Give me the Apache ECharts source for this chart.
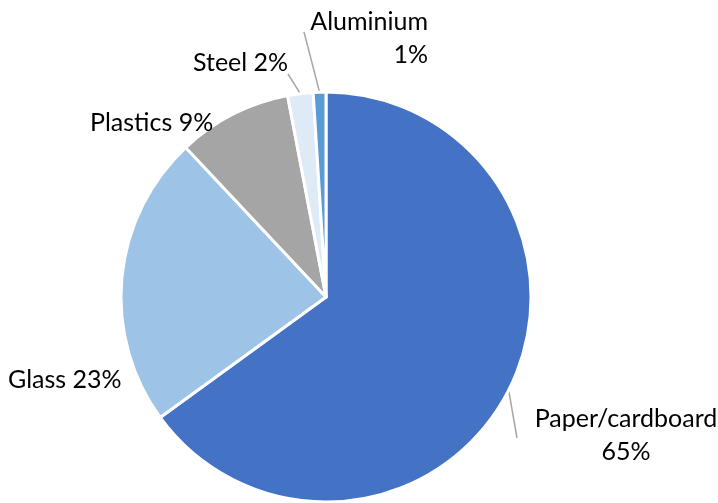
<!DOCTYPE html>
<html>
<head>
<meta charset="utf-8">
<title>Packaging waste by material</title>
<script src="https://cdn.jsdelivr.net/npm/echarts@6/dist/echarts.min.js"></script>
<style>
  html, body { margin: 0; padding: 0; background: #fff; }
  #chart { width: 718px; height: 503px; }
</style>
</head>
<body>
<div id="chart"></div>
<script>
// Share of packaging waste by material (%)
const materials = ['Paper/cardboard', 'Glass', 'Plastics', 'Steel', 'Aluminium'];
const shares = [65, 23, 9, 2, 1];
const sliceColors = ['#4472C4', '#9DC3E6', '#A5A5A5', '#DEEBF7', '#5B9BD5'];

// Label placement: anchor point, alignment, whether the name wraps, and leader line end
const labelPlacement = [
  { x: 626, y: 435, align: 'center', wrap: true,  lineEnd: [517, 438] },
  { x: 8,   y: 380, align: 'left',   wrap: false, lineEnd: null },
  { x: 90,  y: 123, align: 'left',   wrap: false, lineEnd: null },
  { x: 193, y: 63,  align: 'left',   wrap: false, lineEnd: [288, 74] },
  { x: 428, y: 38,  align: 'right',  wrap: true,  lineEnd: [304, 32] }
];

const chart = echarts.init(document.getElementById('chart'), null, { renderer: 'canvas' });

const seriesData = materials.map((name, i) => ({
  name: name,
  value: shares[i],
  itemStyle: { color: sliceColors[i] },
  labelLine: { show: labelPlacement[i].lineEnd !== null }
}));

chart.setOption({
  animation: false,
  backgroundColor: '#ffffff',
  series: [{
    type: 'pie',
    center: [326, 297],
    radius: 205,
    startAngle: 90,
    clockwise: true,
    avoidLabelOverlap: false,
    data: seriesData,
    itemStyle: { borderColor: '#ffffff', borderWidth: 3 },
    label: {
      show: true,
      position: 'outside',
      fontFamily: 'Lato',
      fontSize: 25,
      lineHeight: 33,
      color: '#000000',
      formatter: function (p) {
        const sep = labelPlacement[p.dataIndex].wrap ? '\n' : ' ';
        return p.name + sep + p.value + '%';
      }
    },
    labelLine: {
      show: true,
      lineStyle: { color: '#A6A6A6', width: 1.5 }
    },
    labelLayout: function (params) {
      const place = labelPlacement[params.dataIndex];
      const out = {
        x: place.x,
        y: place.y,
        align: place.align,
        verticalAlign: 'middle'
      };
      if (place.lineEnd && params.labelLinePoints) {
        const start = params.labelLinePoints[0];
        out.labelLinePoints = [start, place.lineEnd, place.lineEnd];
      }
      return out;
    }
  }]
});
</script>
</body>
</html>
